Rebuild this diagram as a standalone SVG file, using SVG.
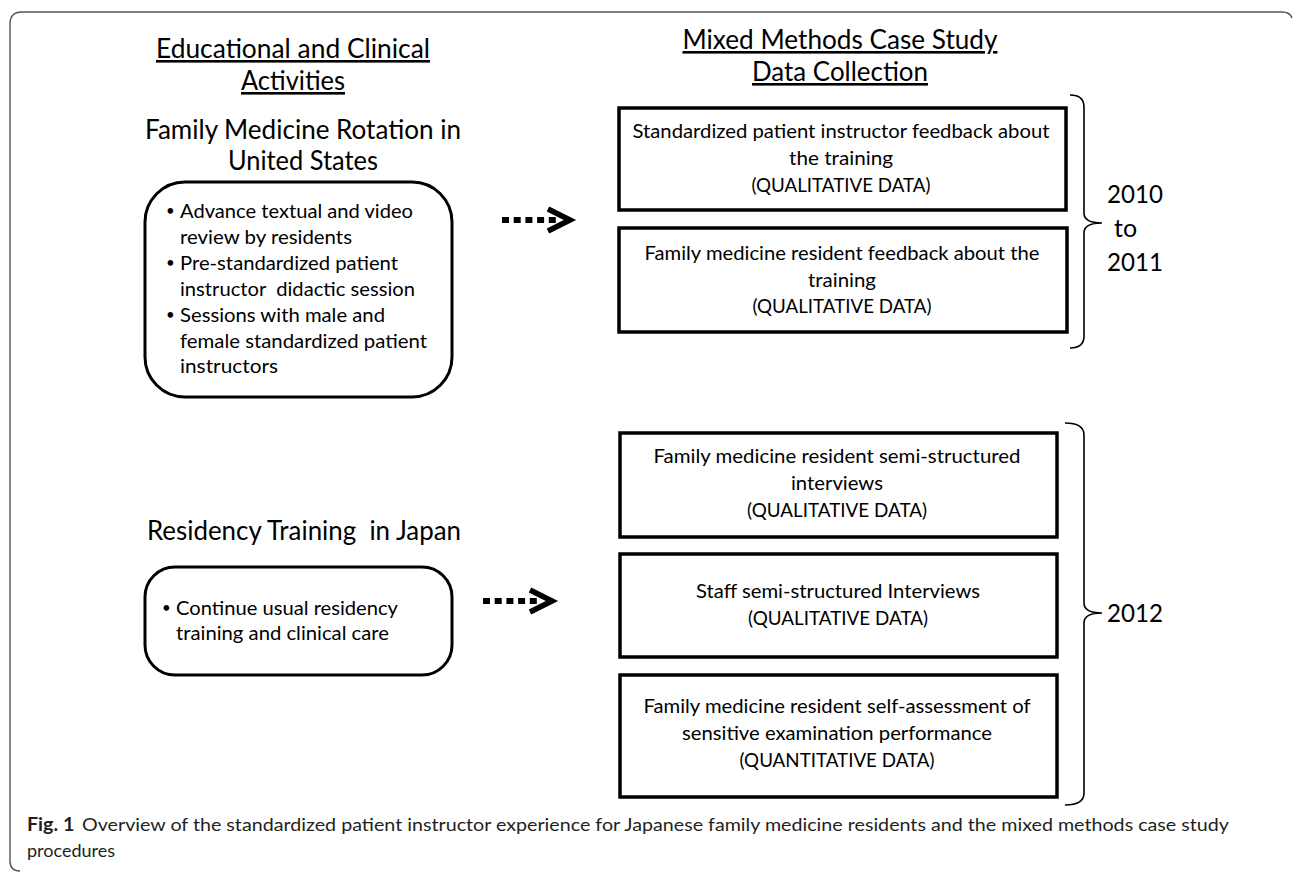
<svg xmlns="http://www.w3.org/2000/svg" width="1293" height="872" viewBox="0 0 1293 872">
<style>
text{font-family:Lato,"Liberation Sans",sans-serif;fill:#000}
.h{font-size:26px}
.hu{font-size:26px;text-decoration:underline}
.b{font-size:20px}
.dot{font-size:15px}
.m{font-size:20px;text-anchor:middle}
.y{font-size:25px}
.cap{font-size:18px;fill:#231f20}
.rbox{fill:#fff;stroke:#000;stroke-width:3.5}
.obox{fill:#fff;stroke:#000;stroke-width:3}
.brace{fill:none;stroke:#000;stroke-width:1.6}
.dash{fill:none;stroke:#000;stroke-width:6;stroke-dasharray:7 4.7}
.head{fill:none;stroke:#000;stroke-width:5.5;stroke-linejoin:miter;stroke-linecap:butt}
</style>
<path d="M20 871 Q10 871 10 861 L10 24 Q10 12 22 12 L1282 12 Q1290 12 1292 18" fill="none" stroke="#555" stroke-width="1.4"/>

<g id="headings">
<text class="hu" x="293" y="58" text-anchor="middle" textLength="274" lengthAdjust="spacingAndGlyphs">Educational and Clinical</text>
<text class="hu" x="293" y="90" text-anchor="middle" textLength="104" lengthAdjust="spacingAndGlyphs">Activities</text>
<text class="hu" x="840" y="49" text-anchor="middle" textLength="315" lengthAdjust="spacingAndGlyphs">Mixed Methods Case Study</text>
<text class="hu" x="840" y="81" text-anchor="middle" textLength="176" lengthAdjust="spacingAndGlyphs">Data Collection</text>
</g>

<g id="us-rotation">
<text class="h" x="303" y="139" text-anchor="middle" textLength="316" lengthAdjust="spacingAndGlyphs">Family Medicine Rotation in</text>
<text class="h" x="303" y="170" text-anchor="middle" textLength="150" lengthAdjust="spacingAndGlyphs">United States</text>
<rect class="obox" x="145" y="182" width="307" height="215" rx="40"/>
<text class="dot" x="166" y="216">•</text>
<text class="b" x="180" y="218" textLength="233" lengthAdjust="spacingAndGlyphs">Advance textual and video</text>
<text class="b" x="180" y="244" textLength="172" lengthAdjust="spacingAndGlyphs">review by residents</text>
<text class="dot" x="166" y="268">•</text>
<text class="b" x="180" y="270" textLength="218" lengthAdjust="spacingAndGlyphs">Pre-standardized patient</text>
<text class="b" x="180" y="296" textLength="235" lengthAdjust="spacingAndGlyphs" xml:space="preserve">instructor  didactic session</text>
<text class="dot" x="166" y="320">•</text>
<text class="b" x="180" y="322" textLength="205" lengthAdjust="spacingAndGlyphs">Sessions with male and</text>
<text class="b" x="180" y="348" textLength="247" lengthAdjust="spacingAndGlyphs">female standardized patient</text>
<text class="b" x="180" y="373" textLength="98" lengthAdjust="spacingAndGlyphs">instructors</text>
</g>

<g id="japan-residency">
<text class="h" x="304" y="540" text-anchor="middle" textLength="314" lengthAdjust="spacingAndGlyphs" xml:space="preserve">Residency Training  in Japan</text>
<rect class="obox" x="145" y="567" width="307" height="108" rx="30"/>
<text class="dot" x="162" y="613">•</text>
<text class="b" x="176" y="615" textLength="222" lengthAdjust="spacingAndGlyphs">Continue usual residency</text>
<text class="b" x="176" y="640" textLength="213" lengthAdjust="spacingAndGlyphs">training and clinical care</text>
</g>

<g id="sp-feedback">
<rect class="rbox" x="619" y="108" width="447" height="102"/>
<text class="m" x="841" y="138" textLength="417" lengthAdjust="spacingAndGlyphs">Standardized patient instructor feedback about</text>
<text class="m" x="841" y="165" textLength="104" lengthAdjust="spacingAndGlyphs">the training</text>
<text class="m" x="841" y="192" textLength="179" lengthAdjust="spacingAndGlyphs">(QUALITATIVE DATA)</text>
</g>

<g id="resident-feedback">
<rect class="rbox" x="619" y="228" width="448" height="104"/>
<text class="m" x="842" y="260" textLength="395" lengthAdjust="spacingAndGlyphs">Family medicine resident feedback about the</text>
<text class="m" x="842" y="287" textLength="68" lengthAdjust="spacingAndGlyphs">training</text>
<text class="m" x="842" y="313" textLength="179" lengthAdjust="spacingAndGlyphs">(QUALITATIVE DATA)</text>
</g>

<g id="resident-interviews">
<rect class="rbox" x="620" y="433" width="437" height="104"/>
<text class="m" x="837" y="463" textLength="367" lengthAdjust="spacingAndGlyphs">Family medicine resident semi-structured</text>
<text class="m" x="837" y="490" textLength="92" lengthAdjust="spacingAndGlyphs">interviews</text>
<text class="m" x="837" y="517" textLength="180" lengthAdjust="spacingAndGlyphs">(QUALITATIVE DATA)</text>
</g>

<g id="staff-interviews">
<rect class="rbox" x="620" y="554" width="437" height="103"/>
<text class="m" x="838" y="598" textLength="284" lengthAdjust="spacingAndGlyphs">Staff semi-structured Interviews</text>
<text class="m" x="838" y="625" textLength="180" lengthAdjust="spacingAndGlyphs">(QUALITATIVE DATA)</text>
</g>

<g id="self-assessment">
<rect class="rbox" x="620" y="675" width="437" height="122"/>
<text class="m" x="837" y="713" textLength="387" lengthAdjust="spacingAndGlyphs">Family medicine resident self-assessment of</text>
<text class="m" x="837" y="740" textLength="310" lengthAdjust="spacingAndGlyphs">sensitive examination performance</text>
<text class="m" x="837" y="767" textLength="195" lengthAdjust="spacingAndGlyphs">(QUANTITATIVE DATA)</text>
</g>

<g id="period-2010">
<path class="brace" d="M1070 95 Q1084 95 1084 107 L1084 213 Q1084 223 1102 223 Q1084 223 1084 233 L1084 336 Q1084 348 1070 348"/>
<text class="y" x="1107" y="203" textLength="56" lengthAdjust="spacingAndGlyphs">2010</text>
<text class="y" x="1114" y="237">to</text>
<text class="y" x="1107" y="271" textLength="56" lengthAdjust="spacingAndGlyphs">2011</text>
</g>

<g id="period-2012">
<path class="brace" d="M1065 423 Q1084 423 1084 435 L1084 603 Q1084 613 1102 613 Q1084 613 1084 623 L1084 793 Q1084 805 1065 805"/>
<text class="y" x="1107" y="622" textLength="56" lengthAdjust="spacingAndGlyphs">2012</text>
</g>

<g id="connectors">
<line class="dash" x1="502" y1="220" x2="556" y2="220"/>
<polyline class="head" points="548,209 570,220 548,231"/>
<line class="dash" x1="483" y1="601" x2="537" y2="601"/>
<polyline class="head" points="530,590 552,601 530,612"/>
</g>

<g id="caption">
<text class="cap" x="27" y="831" textLength="1202" lengthAdjust="spacingAndGlyphs"><tspan font-weight="bold">Fig. 1</tspan><tspan dx="7">Overview of the standardized patient instructor experience for Japanese family medicine residents and the mixed methods case study</tspan></text>
<text class="cap" x="27" y="857" textLength="88" lengthAdjust="spacingAndGlyphs">procedures</text>
</g>
</svg>
